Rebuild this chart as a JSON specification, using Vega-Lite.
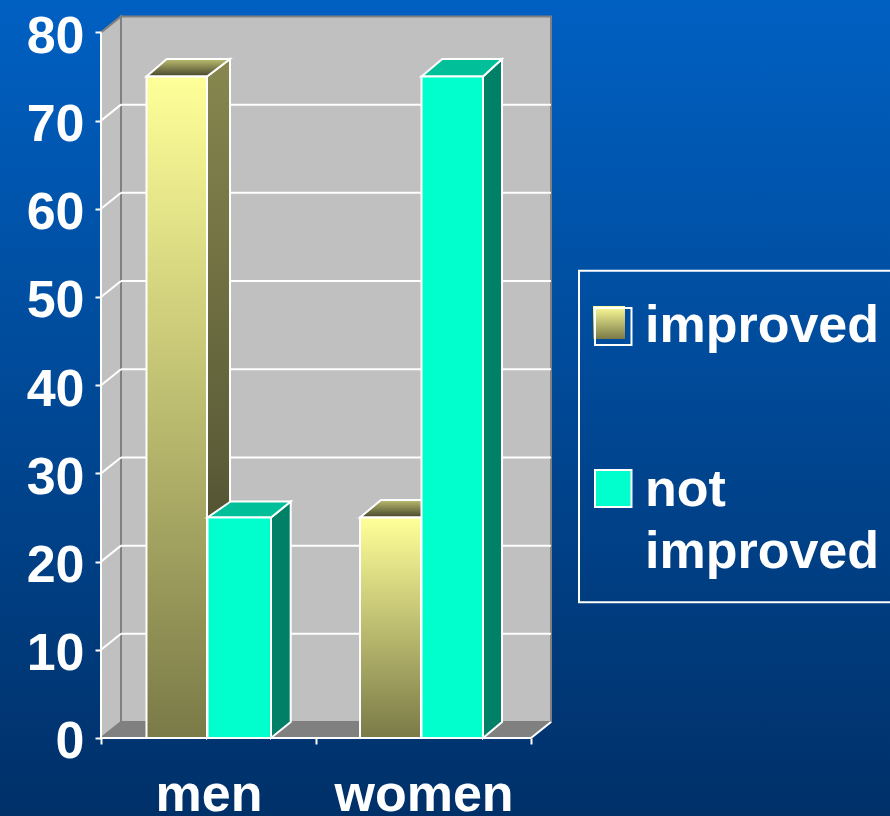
{
"$schema":"https://vega.github.io/schema/vega-lite/v6.json",
"width":890,"height":816,"padding":0,"autosize":{"type":"none"},
"config":{"view":{"stroke":null},"text":{"font":"Liberation Sans"}},
"data":{"values":[
{"part":"bg","x":-0.47,"x2":3.67,"y":-8.844,"y2":83.67},
{"part":"wall","x":0.093,"x2":2.093,"y":1.81,"y2":81.81},
{"part":"sidewall","x":0,"y":80,"y2":0},
{"part":"sidewall","x":0.093,"y":81.81,"y2":1.81},
{"part":"floor","y":0,"x":0,"x2":2},
{"part":"floor","y":1.81,"x":0.093,"x2":2.093},
{"part":"grid","x":0.093,"x2":2.093,"y":11.81,"y2":11.81},
{"part":"grid","x":0.093,"x2":2.093,"y":21.81,"y2":21.81},
{"part":"grid","x":0.093,"x2":2.093,"y":31.81,"y2":31.81},
{"part":"grid","x":0.093,"x2":2.093,"y":41.81,"y2":41.81},
{"part":"grid","x":0.093,"x2":2.093,"y":51.81,"y2":51.81},
{"part":"grid","x":0.093,"x2":2.093,"y":61.81,"y2":61.81},
{"part":"grid","x":0.093,"x2":2.093,"y":71.81,"y2":71.81},
{"part":"grid","x":0,"x2":0.093,"y":10,"y2":11.81},
{"part":"grid","x":0,"x2":0.093,"y":20,"y2":21.81},
{"part":"grid","x":0,"x2":0.093,"y":30,"y2":31.81},
{"part":"grid","x":0,"x2":0.093,"y":40,"y2":41.81},
{"part":"grid","x":0,"x2":0.093,"y":50,"y2":51.81},
{"part":"grid","x":0,"x2":0.093,"y":60,"y2":61.81},
{"part":"grid","x":0,"x2":0.093,"y":70,"y2":71.81},
{"part":"grid","x":0,"x2":2,"y":0,"y2":0},
{"part":"grid","x":0,"x2":0,"y":0,"y2":80},
{"part":"grid","x":2,"x2":2.093,"y":0,"y2":1.81},
{"part":"men improved side","x":0.493,"y":75,"y2":0},
{"part":"men improved side","x":0.6,"y":76.98,"y2":1.9},
{"part":"men improved top","y":75,"x":0.2116,"x2":0.493},
{"part":"men improved top","y":76.98,"x":0.3056,"x2":0.6},
{"part":"men improved front","x":0.2116,"x2":0.493,"y":75,"y2":0},
{"part":"men not side","x":0.7907,"y":25,"y2":0},
{"part":"men not side","x":0.8823,"y":26.81,"y2":1.81},
{"part":"men not top","y":25,"x":0.4953,"x2":0.7907},
{"part":"men not top","y":26.81,"x":0.603,"x2":0.8823},
{"part":"men not front","x":0.4953,"x2":0.7907,"y":25,"y2":0},
{"part":"women improved top","y":25,"x":1.2047,"x2":1.4884},
{"part":"women improved top","y":26.98,"x":1.3023,"x2":1.58},
{"part":"women improved front","x":1.2047,"x2":1.4884,"y":25,"y2":0},
{"part":"women not side","x":1.7767,"y":75,"y2":0},
{"part":"women not side","x":1.8651,"y":76.98,"y2":1.81},
{"part":"women not top","y":75,"x":1.4907,"x2":1.7767},
{"part":"women not top","y":76.98,"x":1.5874,"x2":1.8651},
{"part":"women not front","x":1.4907,"x2":1.7767,"y":75,"y2":0},
{"part":"legend box","x":2.2233,"x2":3.69,"y":52.98,"y2":15.39},
{"part":"swatch gold","x":2.2884,"x2":2.4372,"y":48.98,"y2":45.24},
{"part":"swatch outline","x":2.2977,"x2":2.4674,"y":48.75,"y2":44.56},
{"part":"swatch teal","x":2.2977,"x2":2.4674,"y":30.39,"y2":26.19},
{"part":"label","x":2.5302,"y":44.9,"text":"improved"},
{"part":"label","x":2.5302,"y":26.3,"text":"not"},
{"part":"label","x":2.5302,"y":19.27,"text":"improved"}
]},
"encoding":{
"x":{"field":"x","type":"quantitative","stack":null,"title":null,"scale":{"domain":[-0.46977,3.66977],"nice":false,"zero":false},
"axis":{"orient":"bottom","offset":-78,"zindex":1,"domain":false,"grid":false,"values":[0,0.5,1,1.5,2],"tickColor":"#ffffff","tickWidth":2,"tickSize":6,"tickOpacity":{"expr":"datum.value%1==0?1:0"},"labelExpr":"datum.value==0.5?'men':datum.value==1.5?'women':''","labelColor":"#ffffff","labelFont":"Liberation Sans","labelFontWeight":"bold","labelFontSize":52,"labelPadding":66,"labelBaseline":"alphabetic","labelFlush":false,"labelOverlap":false,"labelAngle":0}},
"y":{"field":"y","type":"quantitative","stack":null,"title":null,"scale":{"domain":[-8.844,83.673],"nice":false,"zero":false},
"axis":{"orient":"left","offset":-101,"zindex":1,"domain":false,"grid":false,"values":[0,10,20,30,40,50,60,70,80],"tickColor":"#ffffff","tickWidth":2,"tickSize":6,"labelColor":"#ffffff","labelFont":"Liberation Sans","labelFontWeight":"bold","labelFontSize":52,"labelPadding":11,"labelOffset":4,"labelFlush":false,"labelOverlap":false}}
},
"layer":[
{"transform":[{"filter":{"field":"part","equal":"bg"}}],"mark":{"type":"rect","fill":{"gradient":"linear","x1":0,"y1":0,"x2":0,"y2":1,"stops":[{"offset":0,"color":"#0060C2"},{"offset":1,"color":"#003068"}]}},"encoding":{"x2":{"field":"x2"},"y2":{"field":"y2"}}},
{"transform":[{"filter":{"field":"part","equal":"wall"}}],"mark":{"type":"rect","fill":"#C0C0C0","stroke":"#808080","strokeWidth":2},"encoding":{"x2":{"field":"x2"},"y2":{"field":"y2"}}},
{"transform":[{"filter":{"field":"part","equal":"sidewall"}}],"mark":{"type":"area","orient":"vertical","fill":"#C0C0C0","stroke":"#808080","strokeWidth":2},"encoding":{"y2":{"field":"y2"}}},
{"transform":[{"filter":{"field":"part","equal":"floor"}}],"mark":{"type":"area","orient":"horizontal","fill":"#808080"},"encoding":{"x2":{"field":"x2"}}},
{"transform":[{"filter":{"field":"part","equal":"grid"}}],"mark":{"type":"rule","color":"#ffffff","strokeWidth":2},"encoding":{"x2":{"field":"x2"},"y2":{"field":"y2"}}},
{"transform":[{"filter":{"field":"part","equal":"men improved side"}}],"mark":{"type":"area","orient":"vertical","stroke":"#ffffff","strokeWidth":2,"fill":{"gradient":"linear","x1":0,"y1":0,"x2":0,"y2":1,"stops":[{"offset":0,"color":"#87874F"},{"offset":0.6,"color":"#5C5C38"},{"offset":1,"color":"#2E2E1C"}]}},"encoding":{"y2":{"field":"y2"}}},
{"transform":[{"filter":{"field":"part","equal":"men improved top"}}],"mark":{"type":"area","orient":"horizontal","stroke":"#ffffff","strokeWidth":2,"fill":{"gradient":"linear","x1":0,"y1":0,"x2":0,"y2":1,"stops":[{"offset":0,"color":"#BDBD70"},{"offset":1,"color":"#45452C"}]}},"encoding":{"x2":{"field":"x2"}}},
{"transform":[{"filter":{"field":"part","equal":"men improved front"}}],"mark":{"type":"rect","stroke":"#ffffff","strokeWidth":2,"fill":{"gradient":"linear","x1":0,"y1":0,"x2":0,"y2":1,"stops":[{"offset":0,"color":"#FFFF99"},{"offset":1,"color":"#7A7A48"}]}},"encoding":{"x2":{"field":"x2"},"y2":{"field":"y2"}}},
{"transform":[{"filter":{"field":"part","equal":"men not side"}}],"mark":{"type":"area","orient":"vertical","fill":"#008066","stroke":"#ffffff","strokeWidth":2},"encoding":{"y2":{"field":"y2"}}},
{"transform":[{"filter":{"field":"part","equal":"men not top"}}],"mark":{"type":"area","orient":"horizontal","fill":"#00BF99","stroke":"#ffffff","strokeWidth":2},"encoding":{"x2":{"field":"x2"}}},
{"transform":[{"filter":{"field":"part","equal":"men not front"}}],"mark":{"type":"rect","fill":"#00FFCC","stroke":"#ffffff","strokeWidth":2},"encoding":{"x2":{"field":"x2"},"y2":{"field":"y2"}}},
{"transform":[{"filter":{"field":"part","equal":"women improved top"}}],"mark":{"type":"area","orient":"horizontal","stroke":"#ffffff","strokeWidth":2,"fill":{"gradient":"linear","x1":0,"y1":0,"x2":0,"y2":1,"stops":[{"offset":0,"color":"#BDBD70"},{"offset":1,"color":"#45452C"}]}},"encoding":{"x2":{"field":"x2"}}},
{"transform":[{"filter":{"field":"part","equal":"women improved front"}}],"mark":{"type":"rect","stroke":"#ffffff","strokeWidth":2,"fill":{"gradient":"linear","x1":0,"y1":0,"x2":0,"y2":1,"stops":[{"offset":0,"color":"#FFFF99"},{"offset":1,"color":"#7A7A48"}]}},"encoding":{"x2":{"field":"x2"},"y2":{"field":"y2"}}},
{"transform":[{"filter":{"field":"part","equal":"women not side"}}],"mark":{"type":"area","orient":"vertical","fill":"#008066","stroke":"#ffffff","strokeWidth":2},"encoding":{"y2":{"field":"y2"}}},
{"transform":[{"filter":{"field":"part","equal":"women not top"}}],"mark":{"type":"area","orient":"horizontal","fill":"#00BF99","stroke":"#ffffff","strokeWidth":2},"encoding":{"x2":{"field":"x2"}}},
{"transform":[{"filter":{"field":"part","equal":"women not front"}}],"mark":{"type":"rect","fill":"#00FFCC","stroke":"#ffffff","strokeWidth":2},"encoding":{"x2":{"field":"x2"},"y2":{"field":"y2"}}},
{"transform":[{"filter":{"field":"part","equal":"legend box"}}],"mark":{"type":"rect","fill":null,"stroke":"#ffffff","strokeWidth":2},"encoding":{"x2":{"field":"x2"},"y2":{"field":"y2"}}},
{"transform":[{"filter":{"field":"part","equal":"swatch gold"}}],"mark":{"type":"rect","fill":{"gradient":"linear","x1":0,"y1":0,"x2":0,"y2":1,"stops":[{"offset":0,"color":"#FFFF99"},{"offset":1,"color":"#7A7A48"}]}},"encoding":{"x2":{"field":"x2"},"y2":{"field":"y2"}}},
{"transform":[{"filter":{"field":"part","equal":"swatch outline"}}],"mark":{"type":"rect","fill":null,"stroke":"#ffffff","strokeWidth":2},"encoding":{"x2":{"field":"x2"},"y2":{"field":"y2"}}},
{"transform":[{"filter":{"field":"part","equal":"swatch teal"}}],"mark":{"type":"rect","fill":"#00FFCC","stroke":"#ffffff","strokeWidth":2},"encoding":{"x2":{"field":"x2"},"y2":{"field":"y2"}}},
{"transform":[{"filter":{"field":"part","equal":"label"}}],"mark":{"type":"text","align":"left","baseline":"alphabetic","font":"Liberation Sans","fontWeight":"bold","fontSize":52,"color":"#ffffff"},"encoding":{"text":{"field":"text"}}}
]
}
